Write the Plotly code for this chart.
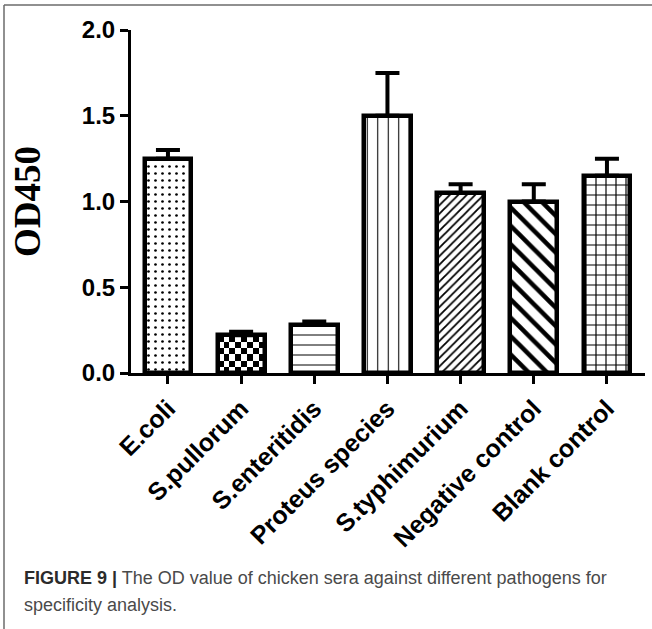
import plotly.graph_objects as go

# OD450 readings per antigen (mean and upper error)
categories = ["E.coli", "S.pullorum", "S.enteritidis", "Proteus species",
              "S.typhimurium", "Negative control", "Blank control"]
od450 = [1.25, 0.22, 0.28, 1.50, 1.05, 1.00, 1.15]
od450_err = [0.05, 0.02, 0.02, 0.25, 0.05, 0.10, 0.10]
y_ticks = [0.0, 0.5, 1.0, 1.5, 2.0]
y_tick_labels = ["0.0", "0.5", "1.0", "1.5", "2.0"]

# fill styles for each bar (checkerboard is rendered separately)
shapes_fill = [".", "", "-", "|", "/", "\\", "+"]
fill_sizes = [7, 8, 10, 10.5, 6, 13, 10]
fill_solid = [0.12, 0.1, 0.1, 0.1, 0.3, 0.35, 0.22]

W, H = 652, 629
ML, MR, MT, MB = 131, 7, 30, 256
PW, PH = W - ML - MR, H - MT - MB
BAR_W = 0.64
x_pos = list(range(len(categories)))


def px_to_paper_x(px):
    return (px - ML) / PW


def px_to_paper_y(py):
    return (H - MB - py) / PH


fig = go.Figure()

# checkerboard texture inside the S.pullorum bar
ci = categories.index("S.pullorum")
ncols, nrows = 8, 6
xe = [ci - BAR_W / 2 + BAR_W * k / ncols for k in range(ncols + 1)]
ye = [od450[ci] * k / nrows for k in range(nrows + 1)]
z = [[(r + c) % 2 for c in range(ncols)] for r in range(nrows)]
fig.add_trace(go.Heatmap(
    x=xe, y=ye, z=z, zmin=0, zmax=1,
    colorscale=[[0, "white"], [1, "black"]],
    showscale=False, hoverinfo="skip",
))

bar_colors = ["black" if s else "rgba(0,0,0,0)" for s in shapes_fill]
fig.add_trace(go.Bar(
    x=x_pos, y=od450, width=BAR_W,
    marker=dict(
        color=bar_colors,
        line=dict(color="black", width=4.5),
        pattern=dict(shape=shapes_fill, size=fill_sizes, solidity=fill_solid,
                     fgcolor="black", bgcolor="white", fillmode="replace"),
    ),
    error_y=dict(type="data", array=od450_err, arrayminus=[0] * len(od450),
                 symmetric=False, color="black", thickness=4, width=12),
    hoverinfo="skip",
))

# figure frame (top and left rules)
frame = dict(type="line", xref="paper", yref="paper",
             line=dict(color="#6b6b6b", width=1.5))
fig.add_shape(**frame, x0=px_to_paper_x(4), x1=px_to_paper_x(W + 2),
              y0=px_to_paper_y(5), y1=px_to_paper_y(5))
fig.add_shape(**frame, x0=px_to_paper_x(4), x1=px_to_paper_x(4),
              y0=px_to_paper_y(5), y1=px_to_paper_y(H + 2))

cap_font = dict(family="Liberation Sans, Arial, sans-serif", size=18, color="#4a4a4a")
fig.add_annotation(
    xref="paper", yref="paper", x=px_to_paper_x(22), y=px_to_paper_y(578),
    xanchor="left", yanchor="middle", showarrow=False, align="left",
    text="<span style='color:#2b2b2b'><b>FIGURE 9 |</b></span> The OD value of chicken sera against different pathogens for",
    font=cap_font,
)
fig.add_annotation(
    xref="paper", yref="paper", x=px_to_paper_x(22), y=px_to_paper_y(605),
    xanchor="left", yanchor="middle", showarrow=False, align="left",
    text="specificity analysis.", font=cap_font,
)

fig.update_layout(
    width=W, height=H,
    margin=dict(l=ML, r=MR, t=MT, b=MB),
    paper_bgcolor="white", plot_bgcolor="white",
    showlegend=False, bargap=0,
    xaxis=dict(
        range=[-0.505, 6.52], tickmode="array", tickvals=x_pos, ticktext=categories,
        tickangle=-45, ticks="outside", ticklen=8, tickwidth=3, tickcolor="black",
        showline=True, linewidth=3, linecolor="black", showgrid=False, zeroline=False,
        tickfont=dict(family="Liberation Sans, Arial, sans-serif", size=25, color="black",
                      weight="bold"),
    ),
    yaxis=dict(
        range=[0, 2.0], tickmode="array", tickvals=y_ticks, ticktext=y_tick_labels,
        ticks="outside", ticklen=8, tickwidth=3, tickcolor="black",
        showline=True, linewidth=3, linecolor="black", showgrid=False, zeroline=False,
        tickfont=dict(family="Liberation Sans, Arial, sans-serif", size=24, color="black",
                      weight="bold"),
        title=dict(text="<b>OD450</b>", standoff=30,
                   font=dict(family="Liberation Serif, Times New Roman, serif", size=37,
                             color="black")),
    ),
)

fig.write_html("out.html")
